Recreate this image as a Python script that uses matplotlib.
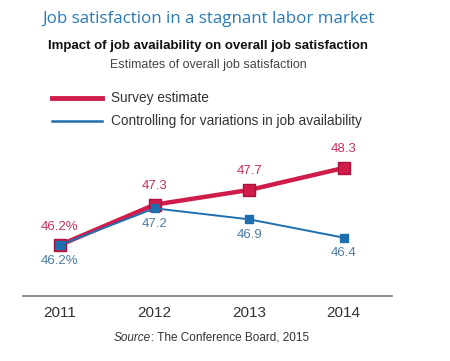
import matplotlib.pyplot as plt

# data
years = [2011, 2012, 2013, 2014]
survey = [46.2, 47.3, 47.7, 48.3]
controlled = [46.2, 47.2, 46.9, 46.4]
survey_labels = ['46.2%', '47.3', '47.7', '48.3']
controlled_labels = ['46.2%', '47.2', '46.9', '46.4']

red = '#d01c4b'
blue = '#1f6fae'

plt.rcParams['font.family'] = ['Liberation Sans', 'DejaVu Sans']

fig = plt.figure(figsize=(4.5, 3.61), dpi=100)
ax = fig.add_axes([23 / 450, 1 - 296 / 361, 369 / 450, 146 / 361])

ax.plot(years, controlled, '-s', color=blue, lw=1.4, ms=6, zorder=3)
ax.plot(years, survey, '-s', color=red, lw=3.2, ms=9, mec='#b0103c', zorder=2)

# point labels
for x, y, s in zip(years, survey, survey_labels):
    ax.annotate(s, (x, y), xytext=(0, 9), textcoords='offset points',
                ha='center', va='bottom', color='#c8305a', fontsize=9.5)
for x, y, s in zip(years, controlled, controlled_labels):
    ax.annotate(s, (x, y), xytext=(0, -7), textcoords='offset points',
                ha='center', va='top', color='#4a7ca6', fontsize=9.5)

ax.set_xlim(2010.61, 2014.51)
ax.set_ylim(44.81, 48.79)
for side in ['left', 'right', 'top']:
    ax.spines[side].set_visible(False)
ax.spines['bottom'].set_color('#777777')
ax.spines['bottom'].set_linewidth(1.2)
ax.set_yticks([])
ax.set_xticks(years)
ax.tick_params(axis='x', length=0, pad=7, labelsize=11, labelcolor='#333333')

# titles
fig.text(42 / 450, 1 - 19 / 361, 'Job satisfaction in a stagnant labor market',
         color='#2b7bb3', fontsize=12.2, va='center', ha='left', family='Open Sans')
fig.text(208 / 450, 1 - 46 / 361, 'Impact of job availability on overall job satisfaction',
         color='#111111', fontsize=9.5, fontweight='bold', va='center', ha='center')
fig.text(208 / 450, 1 - 65 / 361, 'Estimates of overall job satisfaction',
         color='#444444', fontsize=9, va='center', ha='center')

# legend
fig.add_artist(plt.Line2D([52 / 450, 102 / 450], [1 - 98 / 361] * 2, color=red, lw=3.5))
fig.add_artist(plt.Line2D([52 / 450, 102 / 450], [1 - 121 / 361] * 2, color=blue, lw=1.8))
fig.text(111 / 450, 1 - 98 / 361, 'Survey estimate', color='#333333', fontsize=9.8, va='center')
fig.text(111 / 450, 1 - 121 / 361, 'Controlling for variations in job availability',
         color='#333333', fontsize=9.8, va='center')

# source
src = fig.text(114 / 450, 1 - 341 / 361, 'Source', style='italic', color='#333333',
               fontsize=8.5, va='baseline')
plt.annotate(': The Conference Board, 2015', xy=(1, 0), xycoords=src,
             xytext=(0, 0), textcoords='offset points',
             color='#333333', fontsize=8.5, va='bottom', ha='left')

fig.savefig('out.png', dpi=100)
